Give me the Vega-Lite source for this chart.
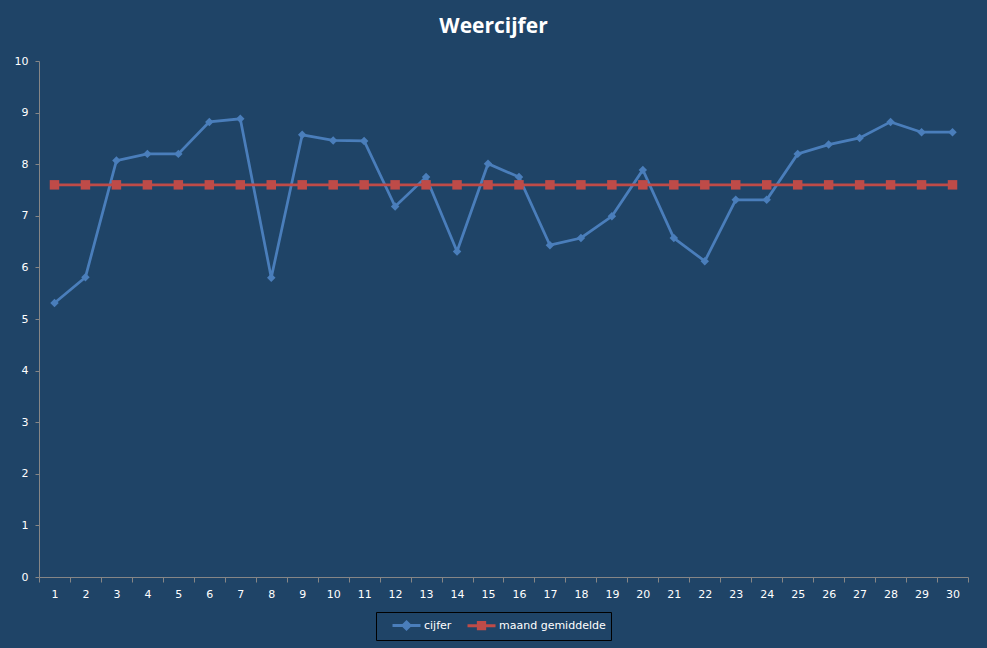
{
  "$schema": "https://vega.github.io/schema/vega-lite/v6.json",
  "width": 929,
  "height": 516,
  "autosize": {"type": "none"},
  "padding": {"left": 39, "top": 61, "right": 19, "bottom": 71},
  "background": "#1F4467",
  "title": {
    "text": "Weercijfer",
    "font": "Open Sans",
    "fontSize": 21,
    "fontWeight": "bold",
    "color": "#FFFFFF",
    "anchor": "middle",
    "dx": -10,
    "offset": 18
  },
  "config": {
    "view": {"stroke": null},
    "axis": {
      "domainColor": "#868686",
      "tickColor": "#868686",
      "labelColor": "#FFFFFF",
      "labelFont": "DejaVu Sans",
      "labelFontSize": 11,
      "grid": false,
      "title": null
    }
  },
  "data": {
    "values": [
      {"dag": 1, "reeks": "cijfer", "waarde": 5.31},
      {"dag": 2, "reeks": "cijfer", "waarde": 5.81},
      {"dag": 3, "reeks": "cijfer", "waarde": 8.07},
      {"dag": 4, "reeks": "cijfer", "waarde": 8.2},
      {"dag": 5, "reeks": "cijfer", "waarde": 8.2},
      {"dag": 6, "reeks": "cijfer", "waarde": 8.82},
      {"dag": 7, "reeks": "cijfer", "waarde": 8.88},
      {"dag": 8, "reeks": "cijfer", "waarde": 5.8},
      {"dag": 9, "reeks": "cijfer", "waarde": 8.57},
      {"dag": 10, "reeks": "cijfer", "waarde": 8.46},
      {"dag": 11, "reeks": "cijfer", "waarde": 8.45},
      {"dag": 12, "reeks": "cijfer", "waarde": 7.18},
      {"dag": 13, "reeks": "cijfer", "waarde": 7.75},
      {"dag": 14, "reeks": "cijfer", "waarde": 6.31},
      {"dag": 15, "reeks": "cijfer", "waarde": 8.01},
      {"dag": 16, "reeks": "cijfer", "waarde": 7.75},
      {"dag": 17, "reeks": "cijfer", "waarde": 6.43},
      {"dag": 18, "reeks": "cijfer", "waarde": 6.57},
      {"dag": 19, "reeks": "cijfer", "waarde": 6.99},
      {"dag": 20, "reeks": "cijfer", "waarde": 7.89},
      {"dag": 21, "reeks": "cijfer", "waarde": 6.57},
      {"dag": 22, "reeks": "cijfer", "waarde": 6.12},
      {"dag": 23, "reeks": "cijfer", "waarde": 7.31},
      {"dag": 24, "reeks": "cijfer", "waarde": 7.31},
      {"dag": 25, "reeks": "cijfer", "waarde": 8.2},
      {"dag": 26, "reeks": "cijfer", "waarde": 8.38},
      {"dag": 27, "reeks": "cijfer", "waarde": 8.51},
      {"dag": 28, "reeks": "cijfer", "waarde": 8.82},
      {"dag": 29, "reeks": "cijfer", "waarde": 8.62},
      {"dag": 30, "reeks": "cijfer", "waarde": 8.62},
      {"dag": 1, "reeks": "maand gemiddelde", "waarde": 7.6},
      {"dag": 2, "reeks": "maand gemiddelde", "waarde": 7.6},
      {"dag": 3, "reeks": "maand gemiddelde", "waarde": 7.6},
      {"dag": 4, "reeks": "maand gemiddelde", "waarde": 7.6},
      {"dag": 5, "reeks": "maand gemiddelde", "waarde": 7.6},
      {"dag": 6, "reeks": "maand gemiddelde", "waarde": 7.6},
      {"dag": 7, "reeks": "maand gemiddelde", "waarde": 7.6},
      {"dag": 8, "reeks": "maand gemiddelde", "waarde": 7.6},
      {"dag": 9, "reeks": "maand gemiddelde", "waarde": 7.6},
      {"dag": 10, "reeks": "maand gemiddelde", "waarde": 7.6},
      {"dag": 11, "reeks": "maand gemiddelde", "waarde": 7.6},
      {"dag": 12, "reeks": "maand gemiddelde", "waarde": 7.6},
      {"dag": 13, "reeks": "maand gemiddelde", "waarde": 7.6},
      {"dag": 14, "reeks": "maand gemiddelde", "waarde": 7.6},
      {"dag": 15, "reeks": "maand gemiddelde", "waarde": 7.6},
      {"dag": 16, "reeks": "maand gemiddelde", "waarde": 7.6},
      {"dag": 17, "reeks": "maand gemiddelde", "waarde": 7.6},
      {"dag": 18, "reeks": "maand gemiddelde", "waarde": 7.6},
      {"dag": 19, "reeks": "maand gemiddelde", "waarde": 7.6},
      {"dag": 20, "reeks": "maand gemiddelde", "waarde": 7.6},
      {"dag": 21, "reeks": "maand gemiddelde", "waarde": 7.6},
      {"dag": 22, "reeks": "maand gemiddelde", "waarde": 7.6},
      {"dag": 23, "reeks": "maand gemiddelde", "waarde": 7.6},
      {"dag": 24, "reeks": "maand gemiddelde", "waarde": 7.6},
      {"dag": 25, "reeks": "maand gemiddelde", "waarde": 7.6},
      {"dag": 26, "reeks": "maand gemiddelde", "waarde": 7.6},
      {"dag": 27, "reeks": "maand gemiddelde", "waarde": 7.6},
      {"dag": 28, "reeks": "maand gemiddelde", "waarde": 7.6},
      {"dag": 29, "reeks": "maand gemiddelde", "waarde": 7.6},
      {"dag": 30, "reeks": "maand gemiddelde", "waarde": 7.6}
    ]
  },
  "encoding": {
    "x": {
      "field": "dag",
      "type": "ordinal",
      "scale": {"type": "band", "paddingInner": 0, "paddingOuter": 0},
      "axis": {"tickBand": "extent", "labelAngle": 0, "tickSize": 5, "labelPadding": 6}
    },
    "y": {
      "field": "waarde",
      "type": "quantitative",
      "scale": {"domain": [0, 10], "nice": false},
      "axis": {"values": [0, 1, 2, 3, 4, 5, 6, 7, 8, 9, 10], "tickSize": 4, "labelPadding": 7}
    }
  },
  "layer": [
    {
      "mark": {"type": "line", "strokeWidth": 2.75},
      "encoding": {
        "color": {
          "field": "reeks",
          "type": "nominal",
          "scale": {"domain": ["cijfer", "maand gemiddelde"], "range": ["#4A7EBB", "#BE4B48"]},
          "legend": {
            "orient": "none",
            "legendX": 337,
            "legendY": 551,
            "direction": "horizontal",
            "title": null,
            "strokeColor": "#000000",
            "padding": 5,
            "symbolSize": 196,
            "symbolStrokeWidth": 3,
            "labelOffset": 26,
            "columnPadding": 4,
            "labelColor": "#FFFFFF",
            "labelFont": "DejaVu Sans",
            "labelFontSize": 11,
            "encode": {
              "symbols": {
                "update": {
                  "shape": {"signal": "datum.value === 'cijfer' ? 'M0.43,0L4.43,0M2.43,-0.5L2.93,0L2.43,0.5L1.93,0Z' : 'M0.43,0L4.43,0M1.98,-0.45L2.88,-0.45L2.88,0.45L1.98,0.45Z'"},
                  "fill": {"signal": "datum.value === 'cijfer' ? '#4A7EBB' : '#BE4B48'"},
                  "stroke": {"signal": "datum.value === 'cijfer' ? '#4A7EBB' : '#BE4B48'"},
                  "strokeWidth": {"value": 3},
                  "opacity": {"value": 1}
                }
              }
            }
          }
        }
      }
    },
    {
      "transform": [{"filter": "datum.reeks === 'cijfer'"}],
      "mark": {"type": "point", "filled": true, "opacity": 1, "shape": "diamond", "size": 72, "color": "#4A7EBB"}
    },
    {
      "transform": [{"filter": "datum.reeks === 'maand gemiddelde'"}],
      "mark": {"type": "point", "filled": true, "opacity": 1, "shape": "square", "size": 90, "color": "#BE4B48"}
    }
  ]
}
